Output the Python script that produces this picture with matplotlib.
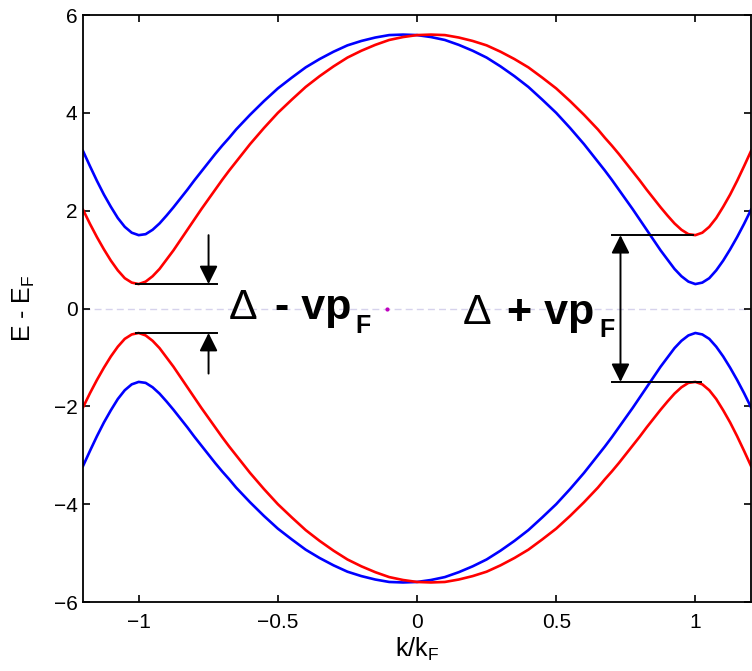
import matplotlib
matplotlib.use("Agg")
import matplotlib.pyplot as plt

plt.rcParams['font.family'] = ['Liberation Sans', 'DejaVu Sans']
plt.rcParams['mathtext.fontset'] = 'custom'
plt.rcParams['mathtext.rm'] = 'Liberation Sans'
plt.rcParams['mathtext.bf'] = 'Liberation Sans:bold'

# momentum grid (k/kF), finer where the bands bend most
k = [-1.2, -1.175, -1.15, -1.125, -1.1, -1.075, -1.05, -1.025, -1.0, -0.975, -0.95, -0.925, -0.9, -0.875, -0.85,
     -0.825, -0.8, -0.775, -0.75, -0.725, -0.7, -0.675, -0.65,
     -0.6, -0.55, -0.5, -0.45, -0.4, -0.35, -0.3, -0.25, -0.2, -0.15, -0.1, -0.05,
     0.0,
     0.05, 0.1, 0.15, 0.2, 0.25, 0.3, 0.35, 0.4, 0.45, 0.5, 0.55, 0.6,
     0.65, 0.675, 0.7, 0.725, 0.75, 0.775, 0.8, 0.825,
     0.85, 0.875, 0.9, 0.925, 0.95, 0.975, 1.0, 1.025, 1.05, 1.075, 1.1, 1.125, 1.15, 1.175, 1.2]

# upper branches
blue_up = [3.22, 2.91, 2.61, 2.33, 2.08, 1.85, 1.67, 1.55, 1.50, 1.52, 1.61, 1.74, 1.90, 2.07, 2.25,
           2.43, 2.62, 2.80, 2.98, 3.16, 3.33, 3.49, 3.66,
           3.96, 4.24, 4.50, 4.72, 4.93, 5.10, 5.25, 5.38, 5.47, 5.54, 5.59, 5.60,
           5.59,
           5.55, 5.49, 5.39, 5.27, 5.13, 4.95, 4.75, 4.53, 4.27, 4.00, 3.69, 3.36,
           3.00, 2.82, 2.63, 2.43, 2.23, 2.03, 1.82, 1.61,
           1.40, 1.19, 1.00, 0.81, 0.66, 0.55, 0.50, 0.53, 0.62, 0.78, 0.98, 1.21, 1.46, 1.73, 2.02]
red_up = [2.02, 1.73, 1.46, 1.21, 0.98, 0.78, 0.62, 0.53, 0.50, 0.55, 0.66, 0.81, 1.00, 1.19, 1.40,
          1.61, 1.82, 2.03, 2.23, 2.43, 2.63, 2.82, 3.00,
          3.36, 3.69, 4.00, 4.27, 4.53, 4.75, 4.95, 5.13, 5.27, 5.39, 5.49, 5.55,
          5.59,
          5.60, 5.59, 5.54, 5.47, 5.38, 5.25, 5.10, 4.93, 4.72, 4.50, 4.24, 3.96,
          3.66, 3.49, 3.33, 3.16, 2.98, 2.80, 2.62, 2.43,
          2.25, 2.07, 1.90, 1.74, 1.61, 1.52, 1.50, 1.55, 1.67, 1.85, 2.08, 2.33, 2.61, 2.91, 3.22]

# lower branches
blue_dn = [-3.22, -2.91, -2.61, -2.33, -2.08, -1.85, -1.67, -1.55, -1.50, -1.52, -1.61, -1.74, -1.90, -2.07, -2.25,
           -2.43, -2.62, -2.80, -2.98, -3.16, -3.33, -3.49, -3.66,
           -3.96, -4.24, -4.50, -4.72, -4.93, -5.10, -5.25, -5.38, -5.47, -5.54, -5.59, -5.60,
           -5.59,
           -5.55, -5.49, -5.39, -5.27, -5.13, -4.95, -4.75, -4.53, -4.27, -4.00, -3.69, -3.36,
           -3.00, -2.82, -2.63, -2.43, -2.23, -2.03, -1.82, -1.61,
           -1.40, -1.19, -1.00, -0.81, -0.66, -0.55, -0.50, -0.53, -0.62, -0.78, -0.98, -1.21, -1.46, -1.73, -2.02]
red_dn = [-2.02, -1.73, -1.46, -1.21, -0.98, -0.78, -0.62, -0.53, -0.50, -0.55, -0.66, -0.81, -1.00, -1.19, -1.40,
          -1.61, -1.82, -2.03, -2.23, -2.43, -2.63, -2.82, -3.00,
          -3.36, -3.69, -4.00, -4.27, -4.53, -4.75, -4.95, -5.13, -5.27, -5.39, -5.49, -5.55,
          -5.59,
          -5.60, -5.59, -5.54, -5.47, -5.38, -5.25, -5.10, -4.93, -4.72, -4.50, -4.24, -3.96,
          -3.66, -3.49, -3.33, -3.16, -2.98, -2.80, -2.62, -2.43,
          -2.25, -2.07, -1.90, -1.74, -1.61, -1.52, -1.50, -1.55, -1.67, -1.85, -2.08, -2.33, -2.61, -2.91, -3.22]

xticks = [-1, -0.5, 0, 0.5, 1]
yticks = [-6, -4, -2, 0, 2, 4, 6]

fig = plt.figure(figsize=(7.52, 6.71), dpi=100)
ax = fig.add_axes([0.1104, 0.1028, 0.8883, 0.8748])

# Fermi level
ax.axhline(0, color='#d6d2ec', lw=1.0, ls=(0, (5, 3)), zorder=1)
ax.plot([-0.108], [0], 'o', color='m', ms=2, zorder=2)

ax.plot(k, blue_up, color='b', lw=1.9)
ax.plot(k, red_up, color='r', lw=1.9)
ax.plot(k, blue_dn, color='b', lw=1.9)
ax.plot(k, red_dn, color='r', lw=1.9)

ax.set_xlim(-1.2, 1.2)
ax.set_ylim(-6, 6)
ax.set_xticks(xticks)
ax.set_xticklabels(['\u22121', '\u22120.5', '0', '0.5', '1'])
ax.set_yticks(yticks)
ax.set_yticklabels(['\u22126', '\u22124', '\u22122', '0', '2', '4', '6'])
ax.tick_params(direction='in', length=5, width=1.2, top=True, right=True, labelsize=15)
ax.tick_params(axis='x', pad=8)
ax.tick_params(axis='y', pad=4)
for sp in ax.spines.values():
    sp.set_linewidth(1.3)

ax.set_xlabel('k/k$_\\mathregular{F}$', fontsize=18, labelpad=3)
ax.set_ylabel('E - E$_\\mathregular{F}$', fontsize=18, labelpad=12)

# small gap markers on the left
lk = dict(color='k', lw=1.4)
ax.plot([-1.01, -0.717], [0.5, 0.5], **lk)
ax.plot([-1.01, -0.717], [-0.5, -0.5], **lk)
head = '-|>,head_width=0.5,head_length=1.0'
ax.annotate('', xy=(-0.749, 0.5), xytext=(-0.749, 1.5),
            arrowprops=dict(arrowstyle=head, color='k', lw=1.4, mutation_scale=11, shrinkA=0, shrinkB=0))
ax.annotate('', xy=(-0.749, -0.5), xytext=(-0.749, -1.33),
            arrowprops=dict(arrowstyle=head, color='k', lw=1.4, mutation_scale=11, shrinkA=0, shrinkB=0))

# large gap marker on the right
ax.plot([0.70, 0.99], [1.5, 1.5], **lk)
ax.plot([0.70, 1.02], [-1.5, -1.5], **lk)
ax.annotate('', xy=(0.731, 1.5), xytext=(0.731, -1.5),
            arrowprops=dict(arrowstyle='<|-|>,head_width=0.5,head_length=1.0', color='k', lw=1.4,
                            mutation_scale=11, shrinkA=0, shrinkB=0))

big = dict(fontsize=31, va='baseline', ha='left')
ax.text(-0.677, -0.215, '\u0394', **big)
ax.text(-0.509, -0.215, '- vp', fontweight='bold', **big)
ax.text(-0.222, -0.50, 'F', fontsize=18, fontweight='bold', va='baseline', ha='left')

ax.text(0.165, -0.317, '\u0394', **big)
ax.text(0.323, -0.317, '+ vp', fontweight='bold', **big)
ax.text(0.655, -0.58, 'F', fontsize=18, fontweight='bold', va='baseline', ha='left')

fig.savefig('out.png', dpi=100)
